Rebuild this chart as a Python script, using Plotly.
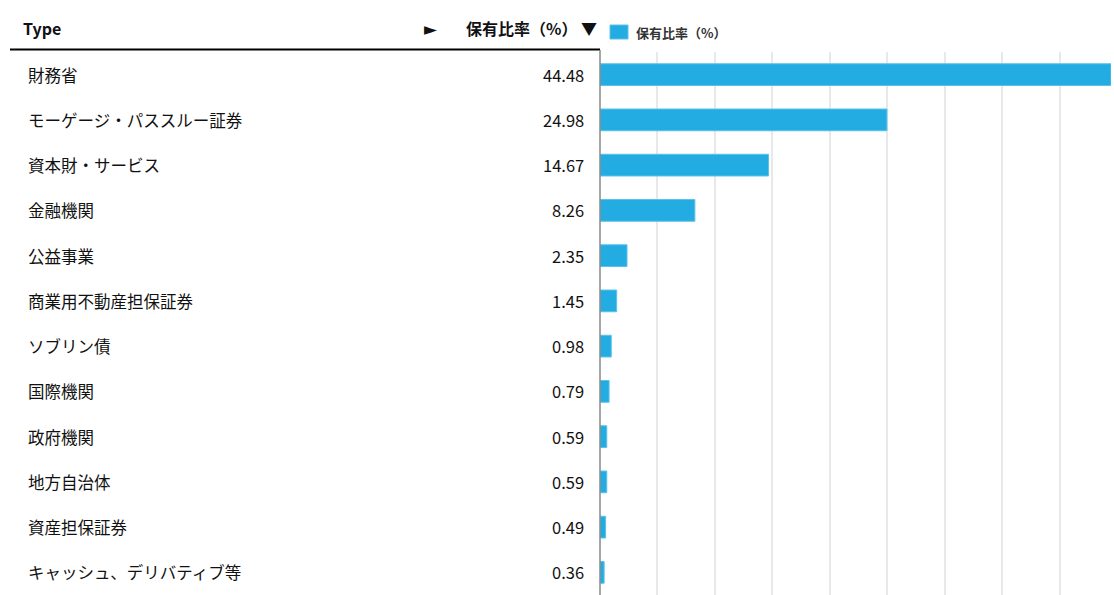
import plotly.graph_objects as go

categories = ["財務省", "モーゲージ・パススルー証券", "資本財・サービス", "金融機関", "公益事業",
              "商業用不動産担保証券", "ソブリン債", "国際機関", "政府機関", "地方自治体",
              "資産担保証券", "キャッシュ、デリバティブ等"]
values = [44.48, 24.98, 14.67, 8.26, 2.35, 1.45, 0.98, 0.79, 0.59, 0.59, 0.49, 0.36]
series_name = "保有比率（%）"
col_header = "Type"

W, H = 1114, 595
TOP = 52
PH = H - TOP
FONT = "Noto Sans CJK JP, DejaVu Sans, sans-serif"
BAR = "#22ACE1"

def py(pix):
    return (H - pix) / PH

fig = go.Figure()
fig.add_trace(go.Bar(
    x=values, y=categories, orientation="h", name=series_name,
    marker=dict(color=BAR, line=dict(color="#5EC1E9", width=1)),
    width=0.48, showlegend=False, hoverinfo="x+y",
))

ann = []
for c, v in zip(categories, values):
    ann.append(dict(x=26 / W, y=c, xref="paper", yref="y", text=c, showarrow=False,
                    xanchor="left", yanchor="middle", font=dict(size=16.5, color="#111", family=FONT)))
    ann.append(dict(x=586 / W, y=c, xref="paper", yref="y", text=f"{v:.2f}", showarrow=False,
                    xanchor="right", yanchor="middle", font=dict(size=16.5, color="#111", family=FONT)))

ann.append(dict(x=21 / W, y=py(28), xref="paper", yref="paper", text="<b>" + col_header + "</b>",
                showarrow=False, xanchor="left", yanchor="middle", font=dict(size=16, color="#111", family=FONT)))
ann.append(dict(x=440 / W, y=py(28), xref="paper", yref="paper", text="►",
                showarrow=False, xanchor="right", yanchor="middle", font=dict(size=17, color="#111", family=FONT)))
ann.append(dict(x=599 / W, y=py(28), xref="paper", yref="paper", text="<b>" + series_name + " ▼</b>",
                showarrow=False, xanchor="right", yanchor="middle", font=dict(size=16, color="#111", family=FONT)))
# legend
ann.append(dict(x=634 / W, y=py(32), xref="paper", yref="paper", text="<b>" + series_name + "</b>",
                showarrow=False, xanchor="left", yanchor="middle", font=dict(size=13, color="#333", family=FONT)))

fig.update_layout(
    width=W, height=H,
    margin=dict(l=0, r=0, t=TOP, b=0, pad=0),
    paper_bgcolor="white", plot_bgcolor="white",
    font=dict(family=FONT),
    showlegend=False,
    xaxis=dict(domain=[600 / W, 1111 / W], range=[0, 44.48], dtick=5, showgrid=True,
               gridcolor="#e8e8e8", gridwidth=1.5, showticklabels=False, zeroline=False,
               showline=False, fixedrange=True),
    yaxis=dict(range=[11.5, -0.5], showticklabels=False, showgrid=False, zeroline=False,
               showline=False, type="category", fixedrange=True),
    annotations=ann,
    shapes=[
        dict(type="line", xref="paper", yref="paper", x0=10 / W, x1=600 / W, y0=py(49.5), y1=py(49.5),
             line=dict(color="black", width=2)),
        dict(type="line", xref="paper", yref="paper", x0=600 / W, x1=600 / W, y0=0, y1=py(50),
             line=dict(color="#888", width=1.5)),
        dict(type="rect", xref="paper", yref="paper", x0=610 / W, x1=628 / W, y0=py(39), y1=py(25),
             fillcolor=BAR, line=dict(color="#5EC1E9", width=1)),
    ],
)

fig.write_html("out.html")
